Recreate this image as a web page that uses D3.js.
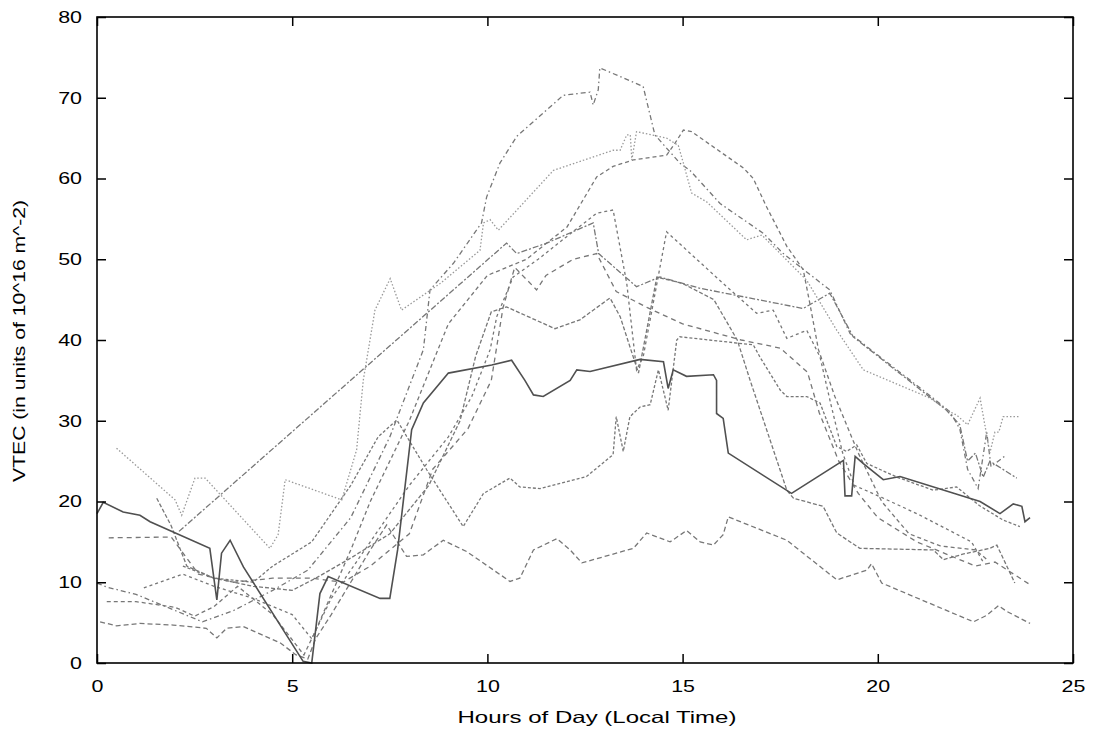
<!DOCTYPE html>
<html>
<head>
<meta charset="utf-8">
<script src="https://cdn.jsdelivr.net/npm/d3@7"></script>
<style>
  body { margin: 0; background: #fff; }
  text { font-family: "Liberation Sans", Arial, sans-serif; fill: #000; }
</style>
</head>
<body>
<svg id="chart" width="1094" height="738"></svg>
<script>
// VTEC values: [hour, value]
const sSolid = [[0,18.5],[0.16,19.9],[0.67,18.7],[1.1,18.3],[1.36,17.5],[2.89,14.2],[3.07,7.8],[3.19,13.6],[3.41,15.2],[3.75,11.9],[5.28,0.2],[5.5,0],[5.71,8.6],[5.92,10.7],[7.25,8],[7.5,8],[7.7,14],[8.06,28.9],[8.36,32.2],[9,35.9],[10.11,36.9],[10.62,37.5],[10.96,35],[11.18,33.2],[11.43,33],[12.12,35],[12.29,36.3],[12.63,36.1],[13.91,37.6],[14.51,37.3],[14.63,34],[14.76,36.3],[15.1,35.5],[15.79,35.7],[15.87,35],[15.87,30.9],[16.04,30.3],[16.17,26],[17.79,21],[19.12,25.1],[19.16,20.7],[19.33,20.7],[19.42,25.6],[19.63,24.7],[20.14,22.7],[20.57,23.1],[22.62,20],[23.13,18.5],[23.47,19.7],[23.69,19.4],[23.77,17.5],[23.9,18]];
const sLow = [[0.08,5.1],[0.5,4.6],[1.1,4.9],[1.95,4.7],[2.8,4.3],[3.07,3.1],[3.32,4.3],[3.75,4.5],[4.69,2.5],[5.1,1],[5.4,0.5],[5.6,3],[6,6],[6.5,10],[7,14],[7.42,17.1],[7.93,13.2],[8.36,13.4],[8.87,15.2],[9.47,13.8],[10.58,10.1],[10.83,10.5],[11.18,14],[11.78,15.4],[12.12,14],[12.42,12.4],[13.74,14.2],[14.08,16.1],[14.68,15],[15.1,16.4],[15.45,15],[15.79,14.6],[16.04,15.9],[16.17,18.1],[17.67,15.2],[18.95,10.3],[19.72,11.5],[19.84,12.3],[20.1,9.9],[22.45,5.1],[22.79,5.9],[23.09,7.1],[23.3,6.4],[23.9,4.9]];
const sDotted = [[0.5,26.6],[2,20.2],[2.17,18.3],[2.51,22.9],[2.77,22.9],[4.43,14.2],[4.64,15.9],[4.82,22.7],[6.27,20.2],[6.65,26.4],[6.82,35],[7.12,43.7],[7.51,47.6],[7.8,43.7],[8.79,47],[9.81,51.1],[9.9,54.5],[10.07,54.9],[10.28,53.6],[11.69,61],[13.22,63.5],[13.4,63.5],[13.57,65.4],[13.66,65.4],[13.7,62.3],[13.82,65.8],[14.59,65],[14.89,64.1],[15.02,61.9],[15.23,58.2],[15.62,57.1],[16.64,52.4],[17.03,53],[18.18,47.4],[18.95,41.2],[19.63,36.3],[21.34,32.8],[21.85,31.1],[22.02,30.7],[22.3,29.5],[22.62,32.8],[22.87,26],[23,28.6],[23.1,28.6],[23.21,30.5],[23.64,30.5]];
const sStraight = [[2.1,16.3],[10.49,52],[10.75,50.7],[11.52,52],[12.71,54.5],[12.85,50.7],[13.82,46.6],[14.42,47.8],[15.45,46.4],[16.3,45.6],[18.09,43.9],[18.77,45.8],[19.37,40.4],[21.42,32.6],[21.76,31.3],[22.1,29.5],[22.3,25],[22.5,26],[22.7,23],[22.87,25],[23.56,22.9]];
const sTop = [[0,9.9],[0.25,9.4],[1,8.5],[2.7,5.1],[3.5,6.5],[4.5,9],[5.4,11.5],[6.5,18],[7.5,28],[8.36,38.8],[8.53,46.2],[9.13,49.5],[9.85,54.5],[9.98,57.7],[10.32,61.9],[10.75,65.2],[11.94,70.3],[12.63,70.7],[12.71,69.1],[12.84,71],[12.88,73.7],[13.99,71.4],[14.29,65.4],[14.93,61.9],[15.19,61],[15.96,56.9],[17.07,53.2],[17.58,50.7],[18,49.1],[18.77,46.2],[19.29,40.8],[20.06,37.9],[21.42,32.8],[21.85,31.1],[22.1,29],[22.3,24],[22.57,21.6],[22.79,28.6],[22.9,24.3],[23.3,25.8]];
const sPeak15 = [[0.25,7.6],[1,7.6],[2,6.9],[2.5,5.8],[3,7],[3.6,9.5],[4.5,6],[5.3,1],[5.6,4],[6.5,14],[7,20],[8,30],[9,42],[10,48],[11,50],[12.04,54],[12.8,60.2],[13.22,61.5],[13.74,62.3],[14.59,62.9],[14.81,64.4],[15.02,66],[15.23,65.8],[16.56,61.3],[16.81,60],[17.15,56.5],[17.67,51.6],[18.09,48.7],[18.26,44.5],[18.48,38.8],[18.9,33],[19.5,26],[20.1,20],[20.8,16],[21.6,14.5],[22.5,14],[22.8,12.8]];
const sPeak13 = [[1.2,9.3],[2.2,11],[3,9.5],[4,8],[5,6],[5.5,3],[6,8],[7,15],[8,22],[9,28],[9.6,33],[10.07,38.8],[10.24,42.9],[10.66,47.8],[11.3,50],[12.03,52.8],[12.8,55.7],[13.22,56.1],[13.57,47],[13.82,36.3],[13.99,37.9],[14.59,53.4],[16.13,46.6],[16.9,43.3],[17.32,43.7],[17.67,40.2],[18.18,41.2],[18.52,37.9],[18.8,32],[19.1,26],[19.4,22],[20.1,20.5],[21,18.5],[21.8,16.5],[22.4,15],[22.7,12.5]];
const sMid = [[1.53,20.4],[1.9,17],[2.3,12],[3,10.5],[4,9.5],[5,9],[5.6,10.5],[6.5,13],[7.5,16],[8.5,22],[9.3,30],[9.7,38],[10.1,43.5],[10.49,44.1],[11.73,41.4],[12.37,42.5],[13.14,45.2],[13.4,42.9],[13.87,35.9],[14.34,47.8],[15,47],[15.8,45],[16.4,40],[16.73,35],[17.67,21.4],[17.84,20.4],[18.6,19.4],[18.95,16.1],[19.54,14.2],[21.42,14],[21.68,12.8],[22.2,13.5],[22.87,14.2],[23.05,14.6],[23.51,9.9]];
const sLowPeak = [[2.2,12],[3,10.5],[4,10],[4.5,12],[5.5,15],[6.5,22],[7.2,28],[7.68,30.1],[8.45,23.9],[9.38,16.9],[9.9,21],[10.58,22.9],[10.83,21.8],[11.35,21.6],[12.54,23.1],[13.22,25.8],[13.3,30.5],[13.48,26.2],[13.65,30.5],[13.91,31.7],[14.17,32],[14.38,36.3],[14.63,31.3],[14.85,40],[14.93,40.4],[16.81,39.4],[16.98,37.9],[17.5,33.8],[17.67,33],[18.18,33],[18.52,32.2],[18.95,26.8],[19.2,26.2],[19.46,27],[19.72,24.7],[20.5,23],[21.42,21.4],[22.02,21.8],[22.6,19.5],[23.21,17.7],[23.64,16.9]];
const sFlat = [[0.3,15.5],[1.9,15.6],[2.6,11],[3.5,10],[4.5,10.5],[5.5,10.5],[6.3,10],[7,12],[8,16],[8.6,24],[9.5,29],[10.1,35],[10.4,44],[10.7,49],[11.26,46.2],[11.5,48],[12.2,50],[12.8,50.7],[13.3,46],[14.1,44],[15,42],[16.5,40],[17.5,39],[18.2,36],[18.5,31],[19,25],[19.5,21],[20,18],[21,15],[22,13],[22.5,12],[23,12.5],[23.9,9.7]];

const xTicks = [0, 5, 10, 15, 20, 25];
const yTicks = [0, 10, 20, 30, 40, 50, 60, 70, 80];

const seriesList = [
  {data: sPeak15,   color: "#777", dash: "4,3"},
  {data: sPeak13,   color: "#777", dash: "3,3"},
  {data: sMid,      color: "#777", dash: "4,2"},
  {data: sLowPeak,  color: "#777", dash: "3,2"},
  {data: sFlat,     color: "#777", dash: "5,4"},
  {data: sLow,      color: "#777", dash: "5,3"},
  {data: sTop,      color: "#777", dash: "5,3,1.5,3"},
  {data: sStraight, color: "#777", dash: "6,2,2,2"},
  {data: sDotted,   color: "#999", dash: "1.5,2"},
  {data: sSolid,    color: "#505050", dash: null}
];

const plotL = 97, plotR = 1073, plotT = 17, plotB = 663;
const svg = d3.select("#chart");

const x = d3.scaleLinear().domain([0, 25]).range([plotL, plotR]);
const y = d3.scaleLinear().domain([0, 80]).range([plotB, plotT]);

// lines
const line = d3.line().x(d => x(d[0])).y(d => y(d[1]));
svg.append("g").selectAll("path")
  .data(seriesList)
  .join("path")
  .attr("d", d => line(d.data))
  .attr("fill", "none")
  .attr("stroke", d => d.color)
  .attr("stroke-width", d => d.dash ? 1.3 : 1.6)
  .attr("stroke-dasharray", d => d.dash);

// axes, gnuplot style: inward ticks, mirrored
const tk = 9;
const sx = 1.3; // the reference lettering is a bit wide
const xAxisG = svg.append("g").attr("transform", `translate(0,${plotB})`)
  .call(d3.axisBottom(x).tickValues(xTicks).tickSize(-tk).tickPadding(16))
  .call(g => g.select(".domain").remove());
svg.append("g").attr("transform", `translate(0,${plotT})`)
  .call(d3.axisTop(x).tickValues(xTicks).tickSize(-tk).tickFormat(""))
  .call(g => g.select(".domain").remove());
const yAxisG = svg.append("g").attr("transform", `translate(${plotL},0)`)
  .call(d3.axisLeft(y).tickValues(yTicks).tickSize(-tk).tickPadding(14))
  .call(g => g.select(".domain").remove());
svg.append("g").attr("transform", `translate(${plotR},0)`)
  .call(d3.axisRight(y).tickValues(yTicks).tickSize(-tk).tickFormat(""))
  .call(g => g.select(".domain").remove());

svg.selectAll(".tick line").attr("stroke", "#000").attr("stroke-width", 1.5);
svg.selectAll(".tick text").style("font-size", "16.5px").attr("fill", "#000")
  .style("font-family", "'Liberation Sans', Arial, sans-serif");
xAxisG.selectAll(".tick text").attr("y", 17).attr("transform", `scale(${sx},1)`);
yAxisG.selectAll(".tick text").attr("x", -15 / sx).attr("transform", `scale(${sx},1)`);

svg.append("rect")
  .attr("x", plotL).attr("y", plotT)
  .attr("width", plotR - plotL).attr("height", plotB - plotT)
  .attr("fill", "none").attr("stroke", "#000").attr("stroke-width", 1.6);

svg.append("text")
  .attr("x", 597).attr("y", 723)
  .attr("text-anchor", "middle").style("font-size", "16.5px")
  .attr("textLength", 279).attr("lengthAdjust", "spacingAndGlyphs")
  .text("Hours of Day (Local Time)");

svg.append("text")
  .attr("transform", "translate(25,341) rotate(-90)")
  .attr("text-anchor", "middle").style("font-size", "16.5px")
  .attr("textLength", 282).attr("lengthAdjust", "spacingAndGlyphs")
  .text("VTEC (in units of 10^16 m^-2)");
</script>
</body>
</html>
